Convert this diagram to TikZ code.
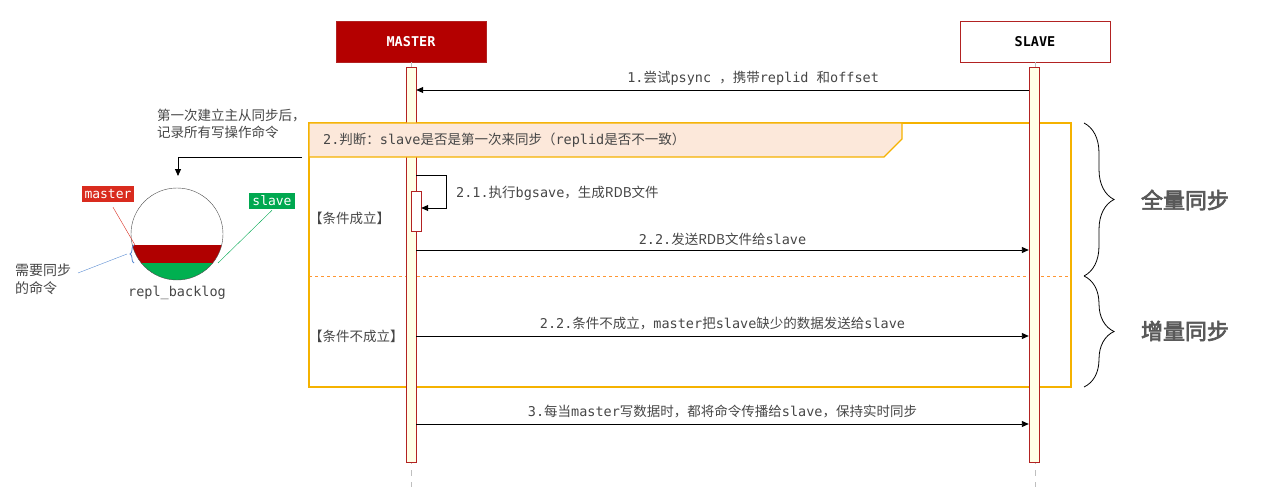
\documentclass[tikz,border=0pt]{standalone}
\usepackage{fontspec}
\setmonofont{DejaVu Sans Mono}
\newfontfamily\cjk[AutoFakeBold=3]{Noto Sans CJK SC}
\usetikzlibrary{arrows.meta, positioning, decorations.pathreplacing}
\tikzset{>/.tip={Triangle[length=7pt,width=6pt]}}
\definecolor{headred}{RGB}{180,0,0}
\definecolor{edgered}{RGB}{178,34,34}
\definecolor{barfill}{RGB}{255,255,230}
\definecolor{altline}{RGB}{245,178,0}
\definecolor{altfill}{RGB}{252,232,218}
\definecolor{sepline}{RGB}{255,150,50}
\definecolor{txt}{RGB}{70,70,70}
\definecolor{tagred}{RGB}{217,43,30}
\definecolor{taggreen}{RGB}{0,168,80}
\definecolor{logred}{RGB}{176,0,0}
\definecolor{loggreen}{RGB}{0,176,80}
\definecolor{noteblue}{RGB}{90,140,210}
\newcommand{\zh}[1]{{\cjk #1}}
\tikzset{
  head/.style={draw=edgered, line width=0.8pt, minimum width=150pt, minimum height=41pt,
    font=\ttfamily\bfseries\fontsize{13.5}{16}\selectfont},
  bar/.style={draw=edgered, fill=barfill, minimum width=10pt, inner sep=0pt},
  life/.style={gray!50, dash pattern=on 6pt off 6pt},
  msg/.style={->, line width=0.9pt},
  lbl/.style={text=txt, inner sep=1pt},
  tag/.style={text=white, minimum height=16pt, inner sep=3pt,
    font=\ttfamily\fontsize{13}{15}\selectfont},
  brc/.style={decorate, decoration={brace, amplitude=30pt}, line width=0.8pt},
  big/.style={text=black!65, font=\cjk\bfseries\fontsize{22}{26}\selectfont},
  altbox/.style={draw=altline, line width=1.2pt},
}

\begin{document}
\begin{tikzpicture}[x=1pt, y=-1pt, node distance=4pt, font=\ttfamily\fontsize{13.5}{16}\selectfont]
\useasboundingbox (0,0) rectangle (1266,492);

% participants and lifelines
\draw node(M)[head, fill=headred, text=white] at (411,41.5) {MASTER};
\draw node(S)[head, fill=white] at (1035,41.5) {SLAVE};
\coordinate (Mend) at (411,487);
\coordinate (Send) at (1035,487);
\draw[life] (M.south) -- (Mend);
\draw[life] (S.south) -- (Send);

% alt frame
\draw[altbox] (309,123) -- (1071,123) -- (1071,387) -- (309,387) -- cycle;
\draw[sepline, dashed, line width=0.8pt] (309,276) -- (1071,276);

% activation bars
\draw node(mb)[bar, minimum height=395pt] at (411,264.5) {};
\draw node(sb)[bar, minimum height=395pt] at (1034,264.5) {};

% alt header over the bar
\draw[altbox, fill=altfill] (309,123) -- (902,123) -- (902,139) -- (884,157) -- (309,157) -- cycle;
\draw node(q)[lbl, anchor=west] at (322,140) {2.\zh{判断：}slave\zh{是否是第一次来同步（}replid\zh{是否不一致）}};
\draw node(yes)[lbl, anchor=west] at (308,218) {\zh{【条件成立】}};
\draw node(no)[lbl, anchor=west] at (308,336) {\zh{【条件不成立】}};

% messages
\draw[msg] (sb.west |- 0,90) -- node[lbl, above=3pt, pos=.45]{1.\zh{尝试}psync \zh{，携带}replid \zh{和}offset} (mb.east |- 0,90);
\draw node(sub)[bar, fill=white, minimum height=40pt] at (416,211) {};
\draw[msg] (mb.east |- 0,175) -- (446,175) |- (sub.east |- 0,208);
\draw node(bg)[lbl, anchor=west] at (455,193) {2.1.\zh{执行}bgsave\zh{，生成RDB文件}};
\draw[msg] (mb.east |- 0,250) -- node[lbl, above=3pt]{2.2.\zh{发送RDB文件给}slave} (sb.west |- 0,250);
\draw[msg] (mb.east |- 0,336) -- node[lbl, above=5pt]{2.2.\zh{条件不成立，}master\zh{把}slave\zh{缺少的数据发送给}slave} (sb.west |- 0,336);
\draw[msg] (mb.east |- 0,424) -- node[lbl, above=5pt]{3.\zh{每当}master\zh{写数据时，都将命令传播给}slave\zh{，保持实时同步}} (sb.west |- 0,424);

% braces
\draw[brc] (1084,123) -- (1084,276);
\draw[brc] (1084,276) -- (1084,387);
\draw node(full)[big] at (1185,200) {全量同步};
\draw node(part)[big] at (1185,331) {增量同步};

% repl_backlog
\draw node(note)[lbl, anchor=north west, align=left, font=\cjk\fontsize{13.5}{17}\selectfont] at (156,108) {第一次建立主从同步后，\\记录所有写操作命令};
\coordinate (c0) at (302,157);
\coordinate (c1) at (178,176);
\draw[->, line width=0.9pt] (c0) -| (c1);
\begin{scope}
\clip (177,234) circle (46);
\fill[logred] (120,245) rectangle (240,263);
\fill[loggreen] (120,263) rectangle (240,290);
\end{scope}
\draw node(rb)[circle, draw=black!70, minimum size=92pt, inner sep=0pt] at (177,234) {};
\draw node(rl)[lbl, below=5pt of rb] {repl\_backlog};
\draw node(mt)[tag, fill=tagred] at (108,194) {master};
\draw node(st)[tag, fill=taggreen] at (272,201) {slave};
\coordinate (mp) at (135,245);
\coordinate (sp) at (218,263);
\draw[tagred] ([xshift=5pt,yshift=-5pt]mt.south) -- (mp);
\draw[taggreen] ([yshift=-1pt]st.south) -- (sp);
\draw[noteblue, line width=0.8pt, decorate, decoration={brace, amplitude=4pt}] (134,263) -- (134,245);
\draw node(need)[lbl, anchor=north west, align=left, font=\cjk\fontsize{14}{18}\selectfont] at (14,263) {需要同步\\的命令};
\coordinate (bp) at (127,254);
\draw[noteblue] (78,273) -- (bp);
\end{tikzpicture}
\end{document}
